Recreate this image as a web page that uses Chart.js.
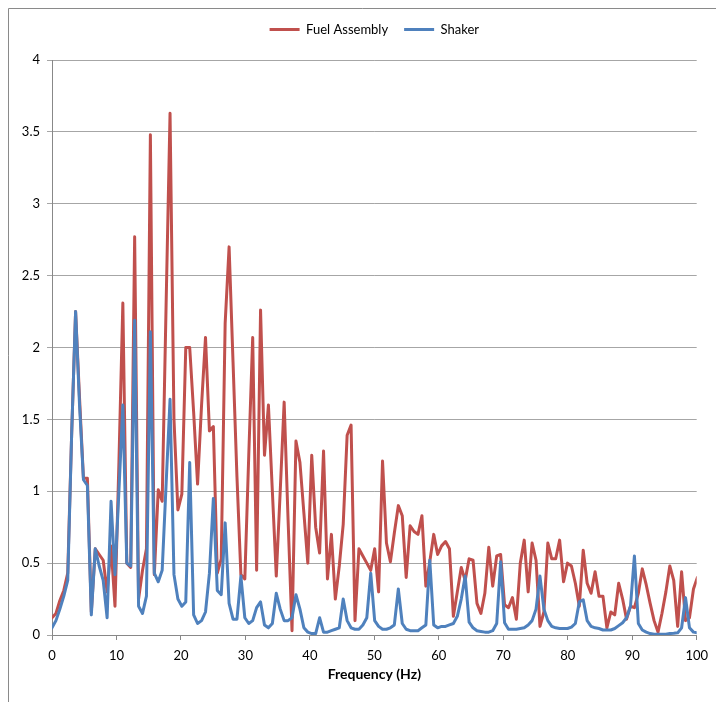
<!DOCTYPE html>
<html><head><meta charset="utf-8">
<script src="https://cdn.jsdelivr.net/npm/chart.js@4"></script>
<style>html,body{margin:0;padding:0;background:#fff}#wrap{width:716px;height:702px;position:relative}</style>
</head><body><div id="wrap"><canvas id="c" width="716" height="702"></canvas></div>
<script>
const frequencyHz = [0,0.61,1.22,1.83,2.44,3.05,3.66,4.27,4.88,5.49,6.10,6.71,7.32,7.94,8.55,9.16,9.77,10.38,10.99,11.60,
12.21,12.82,13.43,14.04,14.65,15.26,15.87,16.48,17.09,17.70,18.31,18.92,19.53,20.14,20.75,21.36,21.97,22.58,23.20,23.81,
24.42,25.03,25.64,26.25,26.86,27.47,28.08,28.69,29.30,29.91,30.52,31.13,31.74,32.35,32.96,33.57,34.18,34.79,35.40,36.01,
36.62,37.23,37.84,38.46,39.07,39.68,40.29,40.90,41.51,42.12,42.73,43.34,43.95,44.56,45.17,45.78,46.39,47.00,47.61,48.22,
48.83,49.44,50.05,50.66,51.27,51.88,52.49,53.10,53.72,54.33,54.94,55.55,56.16,56.77,57.38,57.99,58.60,59.21,59.82,60.43,
61.04,61.65,62.26,62.87,63.48,64.09,64.70,65.31,65.92,66.53,67.14,67.75,68.36,68.98,69.59,70.20,70.81,71.42,72.03,72.64,
73.25,73.86,74.47,75.08,75.69,76.30,76.91,77.52,78.13,78.74,79.35,79.96,80.57,81.18,81.79,82.40,83.01,83.62,84.24,84.85,
85.46,86.07,86.68,87.29,87.90,88.51,89.12,89.73,90.34,90.95,91.56,92.17,92.78,93.39,94.00,94.61,95.22,95.83,96.44,97.05,
97.66,98.27,98.88,99.50,100.11];

const fuelAssembly = [0.12,0.15,0.24,0.31,0.43,1.4,2.25,1.65,1.09,1.09,0.16,0.6,0.56,0.52,0.3,0.62,0.2,1.2,2.31,0.5,
0.47,2.77,0.25,0.45,0.6,3.48,0.42,1.01,0.93,2.3,3.63,1.5,0.87,0.98,2.0,2.0,1.55,1.05,1.6,2.07,
1.42,1.45,0.43,0.53,2.17,2.7,1.9,1.1,0.42,0.39,1.25,2.07,0.45,2.26,1.25,1.6,1.0,0.41,1.0,1.62,
0.8,0.03,1.35,1.2,0.85,0.5,1.25,0.75,0.57,1.28,0.39,0.7,0.25,0.48,0.77,1.39,1.46,0.1,0.6,0.55,
0.5,0.45,0.6,0.3,1.21,0.64,0.51,0.71,0.9,0.83,0.4,0.76,0.72,0.7,0.83,0.34,0.51,0.7,0.56,0.62,
0.65,0.6,0.13,0.3,0.47,0.38,0.53,0.52,0.22,0.15,0.29,0.61,0.34,0.55,0.56,0.21,0.19,0.26,0.11,0.5,
0.66,0.3,0.64,0.52,0.06,0.16,0.64,0.53,0.53,0.66,0.37,0.5,0.48,0.36,0.2,0.59,0.36,0.29,0.44,0.27,
0.27,0.05,0.16,0.14,0.36,0.25,0.11,0.2,0.19,0.29,0.46,0.35,0.22,0.1,0.02,0.15,0.3,0.48,0.38,0.06,
0.44,0.1,0.12,0.32,0.4];

const shaker = [0.05,0.1,0.18,0.27,0.38,1.4,2.25,1.6,1.08,1.04,0.14,0.6,0.48,0.38,0.12,0.93,0.42,1.0,1.6,0.5,
0.48,2.19,0.2,0.15,0.27,2.11,0.43,0.37,0.45,1.05,1.64,0.42,0.25,0.2,0.23,1.2,0.14,0.08,0.1,0.16,
0.43,0.95,0.31,0.28,0.78,0.22,0.11,0.11,0.41,0.12,0.08,0.1,0.19,0.23,0.07,0.05,0.08,0.29,0.18,0.1,
0.1,0.12,0.28,0.18,0.05,0.02,0.01,0.01,0.12,0.02,0.02,0.03,0.04,0.05,0.25,0.1,0.05,0.04,0.04,0.07,
0.12,0.43,0.1,0.06,0.04,0.04,0.05,0.07,0.32,0.08,0.04,0.03,0.03,0.03,0.05,0.07,0.52,0.07,0.05,0.06,
0.06,0.07,0.08,0.13,0.25,0.41,0.09,0.05,0.03,0.025,0.02,0.02,0.03,0.08,0.51,0.085,0.04,0.04,0.04,0.045,
0.05,0.07,0.1,0.18,0.41,0.18,0.1,0.06,0.05,0.045,0.045,0.045,0.055,0.08,0.23,0.245,0.1,0.06,0.05,0.045,
0.035,0.035,0.035,0.045,0.065,0.085,0.12,0.2,0.55,0.08,0.035,0.02,0.01,0.005,0.005,0.005,0.005,0.01,0.012,0.015,
0.05,0.26,0.05,0.02,0.015];

const xTicks = [0,10,20,30,40,50,60,70,80,90,100];
const yTicks = [0,0.5,1,1.5,2,2.5,3,3.5,4];
const seriesNames = ['Fuel Assembly','Shaker'];

const frame = {
  id: 'frame',
  beforeDraw(chart) {
    const ctx = chart.ctx;
    ctx.save();
    ctx.fillStyle = '#fff';
    ctx.fillRect(0, 0, chart.width, chart.height);
    ctx.strokeStyle = '#8a8a8a';
    ctx.lineWidth = 1;
    ctx.beginPath();
    ctx.moveTo(8.5, chart.height);
    ctx.lineTo(8.5, 8.5);
    ctx.lineTo(chart.width, 8.5);
    ctx.stroke();
    ctx.restore();
  }
};

const font = 'Lato';
new Chart(document.getElementById('c'), {
  type: 'line',
  data: {
    datasets: [
      { label: seriesNames[0], data: frequencyHz.map((f, i) => ({x: f, y: fuelAssembly[i]})),
        borderColor: '#C0504D', backgroundColor: '#C0504D', borderWidth: 3, order: 1 },
      { label: seriesNames[1], data: frequencyHz.map((f, i) => ({x: f, y: shaker[i]})),
        borderColor: '#4F81BD', backgroundColor: '#4F81BD', borderWidth: 3, order: 0 }
    ]
  },
  options: {
    responsive: false,
    animation: false,
    devicePixelRatio: 1,
    layout: { padding: { top: 7, left: 10, right: 17, bottom: 0 } },
    elements: {
      point: { radius: 0, hoverRadius: 0 },
      line: { tension: 0, borderJoinStyle: 'round', borderCapStyle: 'round', fill: false }
    },
    plugins: {
      legend: {
        position: 'top',
        fullSize: false,
        labels: {
          font: { family: font, size: 13 },
          color: '#000',
          usePointStyle: true,
          pointStyle: 'line',
          pointStyleWidth: 30,
          boxWidth: 30,
          padding: 16,
          sort: (a, b) => a.datasetIndex - b.datasetIndex
        }
      },
      title: { display: true, text: '', weight: 500, font: { size: 10, lineHeight: 1 }, padding: { top: 0, bottom: 4 } },
      tooltip: { enabled: false }
    },
    scales: {
      x: {
        type: 'linear', min: 0, max: 100,
        afterBuildTicks: s => { s.ticks = xTicks.map(v => ({ value: v })); },
        afterFit: s => { s.height = 67; },
        ticks: { font: { family: font, size: 13 }, color: '#000', padding: 8, maxRotation: 0,
          callback: v => String(v) },
        grid: { drawOnChartArea: false, drawTicks: true, tickLength: 5, color: '#888888' },
        border: { display: true, color: '#888888', width: 1 },
        title: { display: true, text: 'Frequency (Hz)', color: '#000',
          font: { family: font, size: 14, weight: 'bold' }, padding: { top: 0, bottom: 19 } }
      },
      y: {
        type: 'linear', min: 0, max: 4,
        afterBuildTicks: s => { s.ticks = yTicks.map(v => ({ value: v })); },
        afterFit: s => { s.width = 42; },
        ticks: { font: { family: font, size: 13 }, color: '#000', padding: 7,
          callback: v => String(v) },
        grid: { color: '#a6a6a6', tickLength: 5, drawTicks: true },
        border: { display: true, color: '#888888', width: 1 }
      }
    }
  },
  plugins: [frame]
});
</script>
</body></html>
